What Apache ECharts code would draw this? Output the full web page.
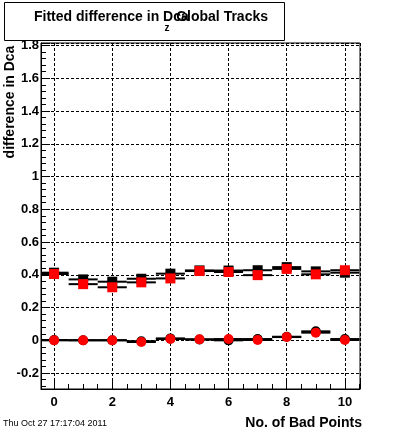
<!DOCTYPE html>
<html>
<head>
<meta charset="utf-8">
<script src="https://cdn.jsdelivr.net/npm/echarts@6/dist/echarts.min.js"></script>
<style>html,body{margin:0;padding:0;background:#fff}#c{width:400px;height:433px}</style>
</head>
<body>
<div id="c"></div>
<script>
// ---- data ----
var xs = [0, 1, 2, 3, 4, 5, 6, 7, 8, 9, 10];
var xErr = 0.5;
var blackSquares = [0.413, 0.372, 0.358, 0.376, 0.407, 0.427, 0.426, 0.428, 0.447, 0.421, 0.413];
var redSquares   = [0.405, 0.343, 0.324, 0.354, 0.378, 0.423, 0.417, 0.398, 0.436, 0.403, 0.428];
var blackCircles = [0.002, 0.001, 0.001, -0.005, 0.012, 0.005, 0.000, 0.008, 0.022, 0.055, 0.008];
var redCircles   = [0.000, 0.000, 0.000, -0.010, 0.008, 0.006, 0.008, 0.002, 0.020, 0.047, 0.002];
var titleMain = 'Fitted difference in Dca';
var titleSub = 'z';
var titleTail = 'Global Tracks';
var yTitle = 'difference in Dca';
var xTitle = 'No. of Bad Points';
var dateText = 'Thu Oct 27 17:17:04 2011';

var FONT = '"Liberation Sans", Arial, Helvetica, sans-serif';

function pairs(vals) { return xs.map(function (x, i) { return [x, vals[i]]; }); }

function errBars(vals, z) {
  return {
    type: 'custom', z: z, silent: true, animation: false,
    data: pairs(vals), encode: { x: 0, y: 1 },
    renderItem: function (params, api) {
      var x = api.value(0), y = api.value(1);
      var p1 = api.coord([x - xErr, y]), p2 = api.coord([x + xErr, y]);
      var cs = params.coordSys;
      var x1 = Math.max(p1[0], cs.x), x2 = Math.min(p2[0], cs.x + cs.width);
      return { type: 'line', shape: { x1: x1, y1: p1[1], x2: x2, y2: p2[1] },
               style: { stroke: '#000', lineWidth: 2 } };
    }
  };
}
function markers(vals, symbol, color, z) {
  return { type: 'scatter', z: z, symbol: symbol, symbolSize: 10, silent: true, animation: false,
           data: pairs(vals), itemStyle: { color: color, opacity: 1 } };
}

var chart = echarts.init(document.getElementById('c'), null, { renderer: 'canvas' });
var axisCommon = {
  type: 'value',
  axisLine: { show: true, onZero: false, lineStyle: { color: '#000', width: 1 } },
  axisTick: { show: true, inside: true, length: 9, lineStyle: { color: '#000' } },
  minorTick: { show: true, length: 5, lineStyle: { color: '#000' } },
  splitLine: { show: true, lineStyle: { color: '#000', type: [3, 2], width: 1 } },
  minorSplitLine: { show: false },
  axisLabel: { color: '#000', fontFamily: FONT, fontWeight: 'bold', fontSize: 13,
               showMinLabel: false, showMaxLabel: false }
};
var option = {
  backgroundColor: '#fff',
  animation: false,
  grid: { left: 41, top: 43, width: 319, height: 346, show: true, borderColor: '#000', borderWidth: 1, backgroundColor: 'transparent' },
  xAxis: Object.assign({}, axisCommon, {
    min: -0.45, max: 10.52, splitNumber: 5,
    minorTick: { show: true, splitNumber: 4, length: 5, lineStyle: { color: '#000' } },
    axisLabel: Object.assign({}, axisCommon.axisLabel, { margin: 7 })
  }),
  yAxis: Object.assign({}, axisCommon, {
    min: -0.297, max: 1.815, splitNumber: 10,
    minorTick: { show: true, splitNumber: 5, length: 5, lineStyle: { color: '#000' } },
    axisLabel: Object.assign({}, axisCommon.axisLabel, { margin: 2 })
  }),
  series: [
    errBars(blackSquares, 2), markers(blackSquares, 'rect', '#000', 3),
    errBars(blackCircles, 2), markers(blackCircles, 'circle', '#000', 3),
    errBars(redSquares, 4), markers(redSquares, 'rect', '#ff0000', 5),
    errBars(redCircles, 4), markers(redCircles, 'circle', '#ff0000', 5)
  ],
  graphic: [
    { type: 'rect', left: 4, top: 2, shape: { width: 280, height: 38 },
      style: { fill: '#fff', stroke: '#000', lineWidth: 1 }, z: 10 },
    { type: 'text', x: 34, y: 17, z: 11,
      style: { text: titleMain, font: 'bold 14px ' + FONT, fill: '#000', align: 'left', verticalAlign: 'middle' } },
    { type: 'text', x: 268, y: 17, z: 11,
      style: { text: titleTail, font: 'bold 14px ' + FONT, fill: '#000', align: 'right', verticalAlign: 'middle' } },
    { type: 'text', x: 167, y: 28, z: 11,
      style: { text: titleSub, font: 'bold 10px ' + FONT, fill: '#000', align: 'center', verticalAlign: 'middle' } },
    { type: 'text', x: 10, y: 102, rotation: Math.PI / 2, z: 11,
      style: { text: yTitle, font: 'bold 14px ' + FONT, fill: '#000', align: 'center', verticalAlign: 'middle' } },
    { type: 'text', x: 362, y: 423, z: 11,
      style: { text: xTitle, font: 'bold 14px ' + FONT, fill: '#000', align: 'right', verticalAlign: 'middle' } },
    { type: 'text', x: 3, y: 424, z: 11,
      style: { text: dateText, font: '9px ' + FONT, fill: '#000', align: 'left', verticalAlign: 'middle' } }
  ]
};
chart.setOption(option);
</script>
</body>
</html>
